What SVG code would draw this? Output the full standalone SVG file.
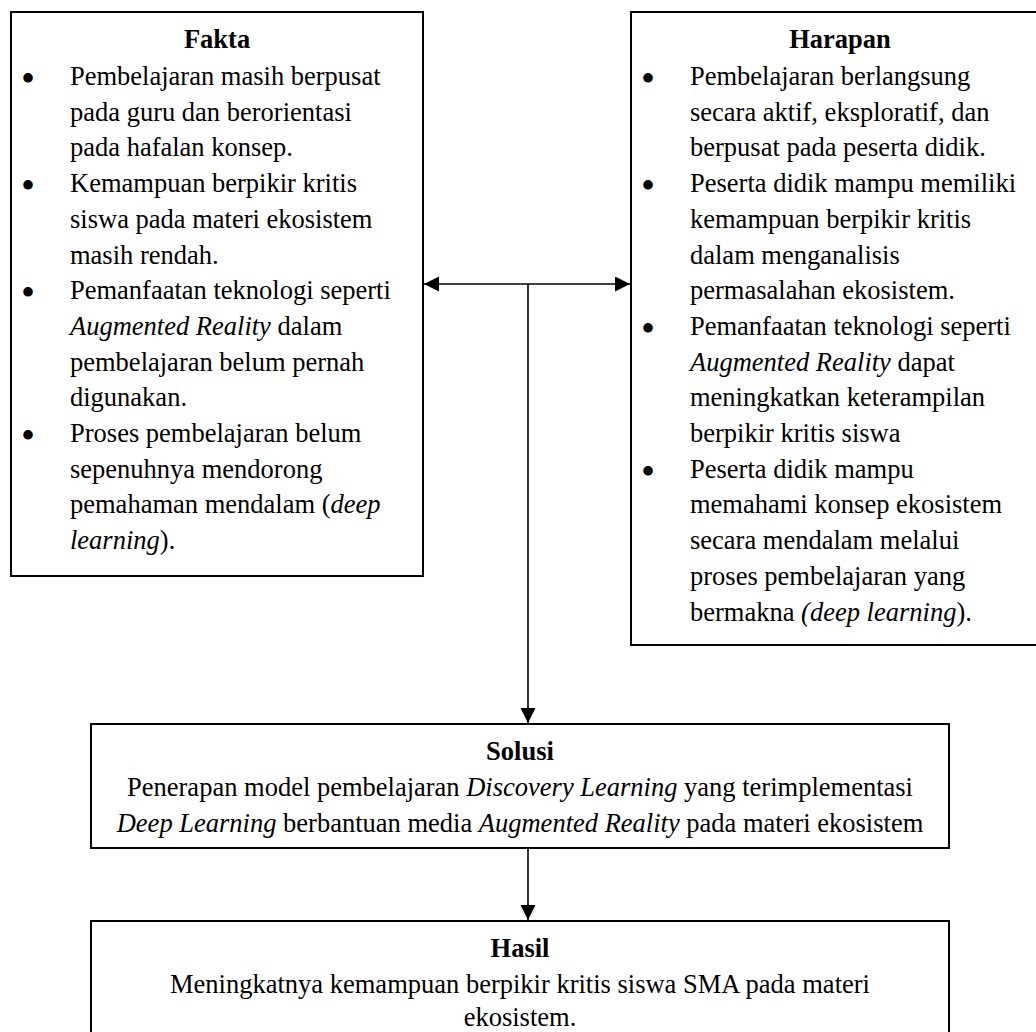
<svg xmlns="http://www.w3.org/2000/svg" width="1036" height="1032" viewBox="0 0 1036 1032">
<defs>
<style>
.box{fill:#fff;stroke:#000;stroke-width:2}
text{font-family:"Liberation Serif","Times New Roman",serif;font-size:26.5px;fill:#000}
.t{font-weight:bold;text-anchor:middle}
.c{text-anchor:middle}
.i{font-style:italic}
.b{font-size:40px;text-anchor:middle}
.line{stroke:#000;stroke-width:1.6;fill:none}
</style>
<marker id="ah" markerUnits="userSpaceOnUse" markerWidth="16" markerHeight="16" refX="15" refY="7.5" orient="auto-start-reverse">
<path d="M0,0 L15,7.5 L0,15 Z" fill="#000"/>
</marker>
</defs>
<rect width="1036" height="1032" fill="#fff"/>

<g id="fakta">
<rect class="box" x="11" y="12" width="412" height="564"/>
<text class="t" x="217" y="48">Fakta</text>
<text class="b" x="28" y="92">•</text>
<text x="70" y="85">Pembelajaran masih berpusat</text>
<text x="70" y="120.7">pada guru dan berorientasi</text>
<text x="70" y="156.4">pada hafalan konsep.</text>
<text class="b" x="28" y="199.1">•</text>
<text x="70" y="192.1">Kemampuan berpikir kritis</text>
<text x="70" y="227.8">siswa pada materi ekosistem</text>
<text x="70" y="263.5">masih rendah.</text>
<text class="b" x="28" y="306.2">•</text>
<text x="70" y="299.2">Pemanfaatan teknologi seperti</text>
<text x="70" y="334.9"><tspan class="i">Augmented Reality</tspan> dalam</text>
<text x="70" y="370.6">pembelajaran belum pernah</text>
<text x="70" y="406.3">digunakan.</text>
<text class="b" x="28" y="449">•</text>
<text x="70" y="442">Proses pembelajaran belum</text>
<text x="70" y="477.7">sepenuhnya mendorong</text>
<text x="70" y="513.4">pemahaman mendalam (<tspan class="i">deep</tspan></text>
<text x="70" y="549.1"><tspan class="i">learning</tspan>).</text>
</g>

<g id="harapan">
<rect class="box" x="631" y="12" width="410" height="633"/>
<text class="t" x="840" y="48">Harapan</text>
<text class="b" x="648" y="92">•</text>
<text x="690" y="85">Pembelajaran berlangsung</text>
<text x="690" y="120.7">secara aktif, eksploratif, dan</text>
<text x="690" y="156.4">berpusat pada peserta didik.</text>
<text class="b" x="648" y="199.1">•</text>
<text x="690" y="192.1">Peserta didik mampu memiliki</text>
<text x="690" y="227.8">kemampuan berpikir kritis</text>
<text x="690" y="263.5">dalam menganalisis</text>
<text x="690" y="299.2">permasalahan ekosistem.</text>
<text class="b" x="648" y="341.9">•</text>
<text x="690" y="334.9">Pemanfaatan teknologi seperti</text>
<text x="690" y="370.6"><tspan class="i">Augmented Reality</tspan> dapat</text>
<text x="690" y="406.3">meningkatkan keterampilan</text>
<text x="690" y="442">berpikir kritis siswa</text>
<text class="b" x="648" y="484.7">•</text>
<text x="690" y="477.7">Peserta didik mampu</text>
<text x="690" y="513.4">memahami konsep ekosistem</text>
<text x="690" y="549.1">secara mendalam melalui</text>
<text x="690" y="584.8">proses pembelajaran yang</text>
<text x="690" y="620.5">bermakna <tspan class="i">(deep learning</tspan>).</text>
</g>

<g id="solusi">
<rect class="box" x="91" y="724" width="858" height="124"/>
<text class="t" x="520" y="760">Solusi</text>
<text class="c" x="520" y="796">Penerapan model pembelajaran <tspan class="i">Discovery Learning</tspan> yang terimplementasi</text>
<text class="c" x="520" y="832"><tspan class="i">Deep Learning</tspan> berbantuan media <tspan class="i">Augmented Reality</tspan> pada materi ekosistem</text>
</g>

<g id="hasil">
<rect class="box" x="91" y="921" width="858" height="130"/>
<text class="t" x="520" y="957">Hasil</text>
<text class="c" x="520" y="993">Meningkatnya kemampuan berpikir kritis siswa SMA pada materi</text>
<text class="c" x="520" y="1026">ekosistem.</text>
</g>

<g id="connectors">
<line class="line" x1="424" y1="284" x2="630" y2="284" marker-start="url(#ah)" marker-end="url(#ah)"/>
<line class="line" x1="528" y1="284" x2="528" y2="723" marker-end="url(#ah)"/>
<line class="line" x1="528" y1="849" x2="528" y2="920" marker-end="url(#ah)"/>
</g>
</svg>
